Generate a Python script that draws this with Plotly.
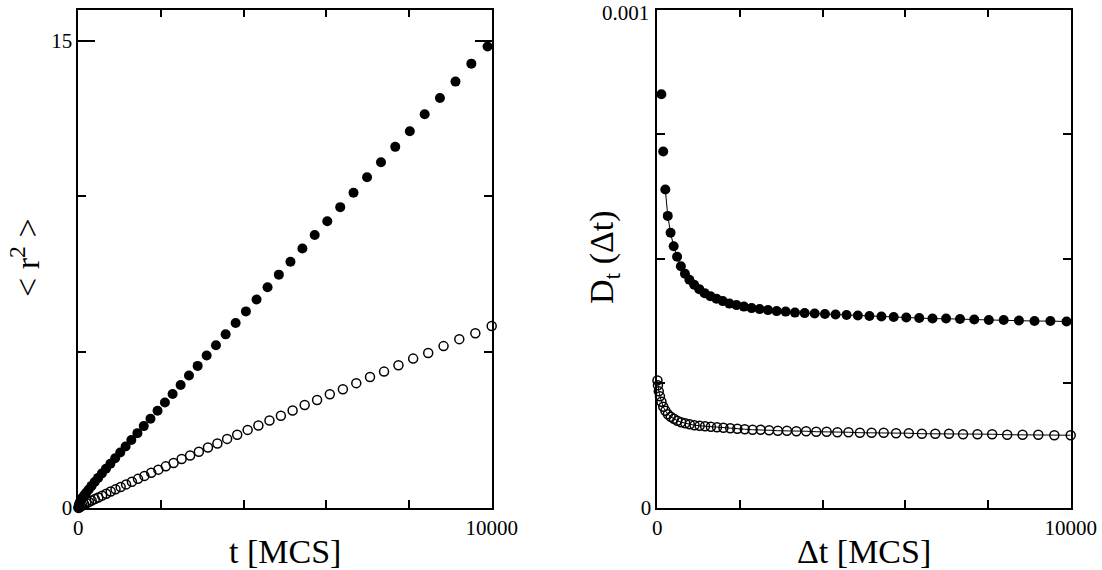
import plotly.graph_objects as go

# mean square displacement, open = 4 n^2 times, filled sampled slightly earlier
t_open = [4, 16, 36, 64, 100, 144, 196, 256, 324, 400, 484, 576, 676, 784, 900,
          1024, 1156, 1296, 1444, 1600, 1764, 1936, 2116, 2304, 2500, 2704, 2916,
          3136, 3364, 3600, 3844, 4096, 4356, 4624, 4900, 5184, 5476, 5776, 6084,
          6400, 6724, 7056, 7396, 7744, 8100, 8464, 8836, 9216, 9604, 10000]
r2_open = [0.004, 0.016, 0.034, 0.057, 0.085, 0.117, 0.153, 0.193, 0.237, 0.286,
           0.339, 0.396, 0.460, 0.527, 0.598, 0.676, 0.758, 0.845, 0.936, 1.030,
           1.129, 1.231, 1.337, 1.447, 1.570, 1.687, 1.808, 1.944, 2.072, 2.218,
           2.353, 2.507, 2.648, 2.811, 2.960, 3.131, 3.308, 3.466, 3.650, 3.814,
           4.008, 4.205, 4.378, 4.584, 4.795, 4.977, 5.196, 5.419, 5.609, 5.840]

t_filled = [4, 16, 36, 63, 99, 143, 194, 253, 321, 396, 479, 570, 669, 776, 891,
            1014, 1144, 1283, 1430, 1584, 1746, 1917, 2095, 2281, 2475, 2677, 2887,
            3105, 3330, 3564, 3806, 4055, 4312, 4578, 4851, 5132, 5421, 5718, 6023,
            6336, 6657, 6985, 7322, 7667, 8019, 8379, 8748, 9124, 9508, 9900]
r2_filled = [0.038, 0.109, 0.187, 0.265, 0.329, 0.409, 0.496, 0.593, 0.709, 0.832,
             0.966, 1.106, 1.258, 1.422, 1.597, 1.781, 1.972, 2.181, 2.402, 2.629,
             2.863, 3.121, 3.386, 3.659, 3.950, 4.251, 4.561, 4.893, 5.221, 5.574,
             5.937, 6.310, 6.692, 7.087, 7.490, 7.903, 8.327, 8.760, 9.203, 9.656,
             10.119, 10.617, 11.100, 11.592, 12.093, 12.636, 13.157, 13.686, 14.262, 14.810]

# time dependent diffusion coefficient
D_open = [0.000256, 0.000246, 0.000234, 0.000224, 0.000213, 0.000203, 0.000195,
          0.000188, 0.000183, 0.000179, 0.000175, 0.000172, 0.000170, 0.000168,
          0.000166, 0.000165, 0.000164, 0.000163, 0.000162, 0.000161, 0.000160,
          0.000159, 0.000158, 0.000157, 0.000157, 0.000156, 0.000155, 0.000155,
          0.000154, 0.000154, 0.000153, 0.000153, 0.000152, 0.000152, 0.000151,
          0.000151, 0.000151, 0.000150, 0.000150, 0.000149, 0.000149, 0.000149,
          0.000148, 0.000148, 0.000148, 0.000147, 0.000147, 0.000147, 0.000146, 0.000146]
# first four filled points lie above 0.001, not shown
dt_filled = t_filled[4:]
D_filled = [0.000830, 0.000715, 0.000639, 0.000586, 0.000552, 0.000525, 0.000504,
            0.000485, 0.000470, 0.000458, 0.000448, 0.000439, 0.000431, 0.000425,
            0.000420, 0.000415, 0.000410, 0.000407, 0.000404, 0.000401, 0.000399,
            0.000397, 0.000395, 0.000394, 0.000392, 0.000391, 0.000390, 0.000389,
            0.000388, 0.000387, 0.000386, 0.000385, 0.000384, 0.000383, 0.000382,
            0.000381, 0.000380, 0.000380, 0.000379, 0.000378, 0.000377, 0.000377,
            0.000376, 0.000375, 0.000375, 0.000374]

x_ticks = [0, 10000]
x_ticktext = ["0", "10000"]
r2_ticks = [0, 15]
r2_ticktext = ["0", "15"]
D_ticks = [0, 0.001]
D_ticktext = ["0", ""]  # top label written as annotation so it is not clipped
D_top_label = "0.001"

W, H = 1102, 570
FONT = "Liberation Serif, Times New Roman, serif"

filled = dict(symbol="circle", size=10, color="black")
opened = dict(symbol="circle-open", size=9, color="black", line=dict(width=1.5, color="black"))

fig = go.Figure()
fig.add_trace(go.Scatter(x=t_filled, y=r2_filled, mode="markers", marker=filled,
                         cliponaxis=False, xaxis="x", yaxis="y"))
fig.add_trace(go.Scatter(x=t_open, y=r2_open, mode="markers", marker=opened,
                         cliponaxis=False, xaxis="x", yaxis="y"))
# fit curves drawn through the diffusion data
fig.add_trace(go.Scatter(x=dt_filled[2:], y=D_filled[2:], mode="lines",
                         line=dict(color="black", width=1), xaxis="x2", yaxis="y2"))
fig.add_trace(go.Scatter(x=t_open, y=D_open, mode="lines",
                         line=dict(color="black", width=1), xaxis="x2", yaxis="y2"))
fig.add_trace(go.Scatter(x=dt_filled, y=D_filled, mode="markers", marker=filled,
                         cliponaxis=False, xaxis="x2", yaxis="y2"))
fig.add_trace(go.Scatter(x=t_open, y=D_open, mode="markers", marker=opened,
                         cliponaxis=False, xaxis="x2", yaxis="y2"))


def frame_axis(domain, rng, majors, labels, minors, anchor):
    return dict(domain=domain, range=rng, anchor=anchor, automargin=False,
                showline=True, linecolor="black", linewidth=1.5, mirror="ticks",
                showgrid=False, zeroline=False,
                ticks="inside", ticklen=17, tickwidth=1.5, tickcolor="black",
                tickmode="array", tickvals=majors, ticktext=labels,
                ticklabeloverflow="allow",
                tickfont=dict(family=FONT, size=21, color="black"),
                minor=dict(tickvals=minors, ticks="inside", ticklen=8,
                           tickwidth=1.5, tickcolor="black", showgrid=False))


ydom = [1 - 508 / H, 1 - 9.5 / H]
fig.update_layout(
    template="none",
    width=W, height=H,
    margin=dict(l=0, r=0, t=0, b=0, autoexpand=False),
    paper_bgcolor="white", plot_bgcolor="white",
    showlegend=False,
    xaxis=frame_axis([78.3 / W, 491.7 / W], [0, 10000], x_ticks, x_ticktext,
                     [2000, 4000, 6000, 8000], "y"),
    yaxis=frame_axis(ydom, [0, 16], r2_ticks, r2_ticktext, [5, 10], "x"),
    xaxis2=frame_axis([657.3 / W, 1070.7 / W], [0, 10000], x_ticks, x_ticktext,
                      [2000, 4000, 6000, 8000], "y2"),
    yaxis2=frame_axis(ydom, [0, 0.001], D_ticks, D_ticktext,
                      [0.00025, 0.0005, 0.00075], "x2"),
)

fig.add_annotation(text=D_top_label, x=651 / W, y=1 - 13 / H, xref="paper", yref="paper",
                   showarrow=False, font=dict(family=FONT, size=21, color="black"),
                   xanchor="right", yanchor="middle")

title_font = dict(family=FONT, size=34, color="black")
fig.add_annotation(text="t [MCS]", x=285 / W, y=1 - 551 / H, xref="paper", yref="paper",
                   showarrow=False, font=title_font, xanchor="center", yanchor="middle")
fig.add_annotation(text="\u0394t [MCS]", x=864 / W, y=1 - 551 / H, xref="paper", yref="paper",
                   showarrow=False, font=title_font, xanchor="center", yanchor="middle")
fig.add_annotation(text="< r<sup>2</sup> >", x=25 / W, y=1 - 258 / H, xref="paper", yref="paper",
                   showarrow=False, font=title_font, textangle=-90,
                   xanchor="center", yanchor="middle")
fig.add_annotation(text="D<sub>t</sub> (\u0394t)", x=604 / W, y=1 - 257 / H, xref="paper",
                   yref="paper", showarrow=False, font=title_font, textangle=-90,
                   xanchor="center", yanchor="middle")

fig.write_html("out.html", config={"displayModeBar": False},
               post_script="document.body.style.margin='0';")
